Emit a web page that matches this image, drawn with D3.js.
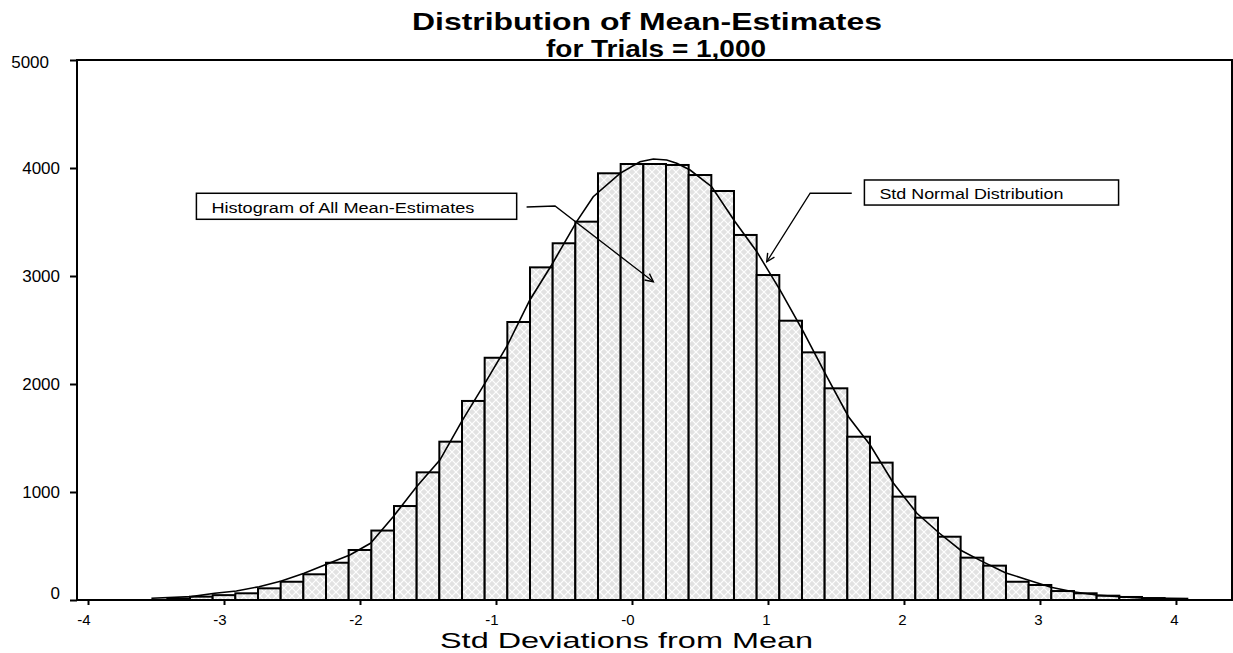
<!DOCTYPE html>
<html>
<head>
<meta charset="utf-8">
<script src="https://cdn.jsdelivr.net/npm/d3@7"></script>
<style>
  body { margin: 0; background: #fff; }
  svg { font-family: Arial, "Liberation Sans", sans-serif; }
</style>
</head>
<body>
<script>
// histogram bins: width 1/6 sd, first bin centred at -20/6
var binWidth = 1 / 6;
var firstBinCenter = -20 / 6;
var binCounts = [12, 31, 45, 62, 108, 169, 238, 345, 463, 643, 870, 1182, 1466, 1843, 2243,
    2574, 3080, 3303, 3503, 3951, 4037, 4037, 4028, 3935, 3787, 3380, 3009, 2586, 2293, 1960,
    1512, 1272, 957, 762, 586, 392, 318, 169, 139, 83, 62, 40, 28, 18, 12];

// std normal curve
var curveX = [-3.534, -3.240, -3.068, -2.909, -2.742, -2.578, -2.411, -2.242, -2.075, -1.923,
    -1.756, -1.584, -1.413, -1.253, -1.082, -0.922, -0.751, -0.591, -0.407, -0.285, -0.088,
    0.059, 0.157, 0.255, 0.329, 0.427, 0.586, 0.758, 0.918, 1.089, 1.260, 1.433, 1.592, 1.751,
    1.923, 2.095, 2.261, 2.414, 2.578, 2.745, 2.912, 3.081, 3.243, 3.414, 3.578, 3.738, 4.082];
var curveY = [16, 31, 62, 83, 123, 176, 247, 333, 417, 525, 771, 1049, 1296, 1651, 2006, 2345,
    2778, 3102, 3503, 3734, 3951, 4058, 4083, 4074, 4043, 3981, 3827, 3503, 3225, 2870, 2484,
    2068, 1697, 1435, 1081, 803, 618, 463, 355, 253, 185, 118, 77, 46, 31, 19, 12];

var yTicks = [0, 1000, 2000, 3000, 4000, 5000];
var xTicks = [-4, -3, -2, -1, 0, 1, 2, 3, 4];
var xTickLabels = ["-4", "-3", "-2", "-1", "-0", "1", "2", "3", "4"];

var titleLines = ["Distribution of Mean-Estimates", "for Trials = 1,000"];
var xTitle = "Std Deviations from Mean";

window.onload = function() {
    drawChart();
};

function drawChart() {
    var width = 1233,
        height = 653;
    var left = 77, right = 1232, top = 60, bottom = 600;

    var svg = d3.select("body")
        .append("svg")
        .attr("width", width)
        .attr("height", height);

    var x = d3.scaleLinear()
        .domain([-4.081, 4.412])
        .range([left, right]);

    var y = d3.scaleLinear()
        .domain([0, 5000])
        .range([bottom, top]);

    //crosshatch fill for the bars
    var defs = svg.append("defs");
    var pat = defs.append("pattern")
        .attr("id", "hatch")
        .attr("patternUnits", "userSpaceOnUse")
        .attr("width", 8)
        .attr("height", 8);
    pat.append("rect")
        .attr("width", 8)
        .attr("height", 8)
        .attr("fill", "#e2e2e2");
    pat.append("path")
        .attr("d", "M-2,-2L10,10M10,-2L-2,10")
        .attr("stroke", "#fff")
        .attr("stroke-width", 1.2);

    //open arrow head for the call-outs
    defs.append("marker")
        .attr("id", "arrow")
        .attr("markerUnits", "userSpaceOnUse")
        .attr("markerWidth", 12)
        .attr("markerHeight", 12)
        .attr("refX", 9)
        .attr("refY", 5)
        .attr("orient", "auto")
        .append("path")
        .attr("d", "M1,1L9,5L1,9")
        .attr("fill", "none")
        .attr("stroke", "#000")
        .attr("stroke-width", 1.4);

    //bars
    svg.selectAll(".bar")
        .data(binCounts)
        .enter()
        .append("rect")
        .attr("class", "bar")
        .attr("x", function(d, i) { return x(firstBinCenter + i * binWidth - binWidth / 2); })
        .attr("width", function(d, i) {
            var c = firstBinCenter + i * binWidth;
            return x(c + binWidth / 2) - x(c - binWidth / 2);
        })
        .attr("y", function(d) { return y(d); })
        .attr("height", function(d) { return y(0) - y(d); })
        .attr("fill", "url(#hatch)")
        .attr("stroke", "#000")
        .attr("stroke-width", 2);

    //normal curve
    var line = d3.line()
        .x(function(d) { return x(d[0]); })
        .y(function(d) { return y(d[1]); });

    svg.append("path")
        .datum(d3.zip(curveX, curveY))
        .attr("d", line)
        .attr("fill", "none")
        .attr("stroke", "#000")
        .attr("stroke-width", 1.6);

    //frame
    svg.append("rect")
        .attr("x", left)
        .attr("y", top)
        .attr("width", right - left)
        .attr("height", bottom - top)
        .attr("fill", "none")
        .attr("stroke", "#000")
        .attr("stroke-width", 2);

    //y axis
    var yAxis = svg.append("g")
        .attr("transform", "translate(" + left + ",0)")
        .call(d3.axisLeft(y).tickValues(yTicks).tickSize(7).tickPadding(10)
            .tickFormat(d3.format("d")));
    yAxis.select(".domain").remove();
    yAxis.selectAll("line").attr("stroke-width", 2);
    yAxis.selectAll("text")
        .attr("font-size", 17)
        .attr("font-family", "Arial, 'Liberation Sans', sans-serif")
        .attr("fill", "#000");
    // the 0 label sits a little above its tick, 5000 a little left
    yAxis.selectAll(".tick").filter(function(d) { return d === 0; })
        .select("text").attr("y", -7);
    yAxis.selectAll(".tick").filter(function(d) { return d === 5000; })
        .select("text").attr("x", -28).attr("y", 2);

    //x axis
    var xAxis = svg.append("g")
        .attr("transform", "translate(0," + bottom + ")")
        .call(d3.axisBottom(x).tickValues(xTicks).tickSize(5).tickPadding(9)
            .tickFormat(function(d, i) { return xTickLabels[i]; }));
    xAxis.select(".domain").remove();
    xAxis.selectAll("line").attr("stroke-width", 2);
    xAxis.selectAll("text")
        .attr("font-size", 15)
        .attr("font-family", "Arial, 'Liberation Sans', sans-serif")
        .attr("fill", "#000")
        .attr("text-anchor", "end")
        .attr("dx", 2);

    //titles
    svg.append("text")
        .attr("x", 412)
        .attr("y", 30)
        .attr("font-size", 23)
        .attr("font-weight", "bold")
        .attr("textLength", 470)
        .attr("lengthAdjust", "spacingAndGlyphs")
        .text(titleLines[0]);
    svg.append("text")
        .attr("x", 546)
        .attr("y", 56.5)
        .attr("font-size", 23)
        .attr("font-weight", "bold")
        .attr("textLength", 220)
        .attr("lengthAdjust", "spacingAndGlyphs")
        .text(titleLines[1]);

    svg.append("text")
        .attr("x", 440)
        .attr("y", 648)
        .attr("font-size", 22)
        .attr("textLength", 373)
        .attr("lengthAdjust", "spacingAndGlyphs")
        .text(xTitle);

    //call-outs, placed in data units
    var callouts = [
        { label: "Histogram of All Mean-Estimates", box: [-3.203, -0.848, 3766, 3525],
          textW: 263, leader: [[-0.775, 3639], [-0.566, 3648], [0.157, 2947]] },
        { label: "Std Normal Distribution", box: [1.709, 3.578, 3889, 3657],
          textW: 184, leader: [[1.616, 3766], [1.310, 3766], [0.991, 3132]] }
    ];

    callouts.forEach(function(c) {
        var bx0 = x(c.box[0]), bx1 = x(c.box[1]),
            by0 = y(c.box[2]), by1 = y(c.box[3]);
        svg.append("rect")
            .attr("x", bx0)
            .attr("y", by0)
            .attr("width", bx1 - bx0)
            .attr("height", by1 - by0)
            .attr("fill", "#fff")
            .attr("stroke", "#000")
            .attr("stroke-width", 1.5);
        svg.append("text")
            .attr("x", bx0 + 15)
            .attr("y", by1 - 6)
            .attr("font-size", 14)
            .attr("textLength", c.textW)
            .attr("lengthAdjust", "spacingAndGlyphs")
            .text(c.label);
        svg.append("path")
            .datum(c.leader)
            .attr("d", line)
            .attr("fill", "none")
            .attr("stroke", "#000")
            .attr("stroke-width", 1.3)
            .attr("marker-end", "url(#arrow)");
    });
}
</script>
</body>
</html>
